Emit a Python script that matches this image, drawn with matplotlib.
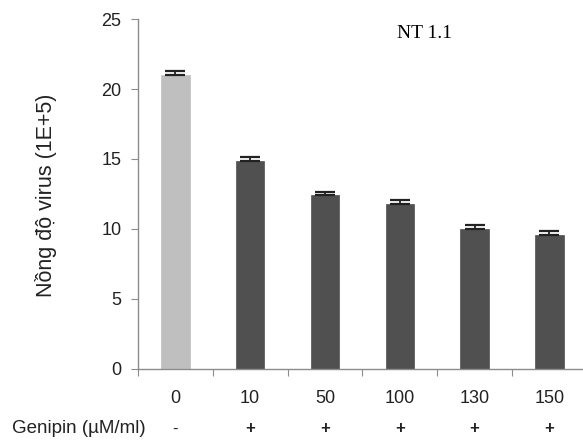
"""Genipin dose vs virus concentration (NT 1.1) bar chart -> out.png"""
import numpy as np
import matplotlib
matplotlib.use("Agg")
import matplotlib.pyplot as plt
from matplotlib.transforms import blended_transform_factory

plt.rcParams["font.family"] = ["Liberation Sans", "DejaVu Sans"]

doses = ["0", "10", "50", "100", "130", "150"]
signs = ["-", "+", "+", "+", "+", "+"]
virus = [21.0, 14.85, 12.4, 11.75, 10.0, 9.55]
err = [0.3, 0.28, 0.25, 0.3, 0.32, 0.3]
colors = ["#bfbfbf", "#505050", "#505050", "#505050", "#505050", "#505050"]

AXIS_COL = "#8c8c8c"

fig = plt.figure(figsize=(5.83, 4.45), dpi=100)
ax = fig.add_axes([0.2367, 0.1708, 0.7633, 0.7865])

x = np.arange(len(doses))
ax.bar(x, virus, width=0.38, color=colors, edgecolor=colors, lw=0.5, zorder=2)
ax.errorbar(x, virus, yerr=[np.zeros(len(err)), err], fmt="none",
            ecolor="#222", elinewidth=1.3, capsize=7, capthick=1.6, zorder=3)

ax.set_xlim(-0.5, 5.45)
ax.set_ylim(0, 25)
ax.set_yticks([0, 5, 10, 15, 20, 25])
ax.tick_params(axis="y", labelsize=13, length=5, color=AXIS_COL, pad=7,
               labelcolor="#222")

# category boundary ticks, labels centred under bars
ax.set_xticks(np.arange(-0.5, 5.0, 1.0))
ax.set_xticklabels([])
ax.set_xticks(x, minor=True)
ax.set_xticklabels(doses, minor=True)
ax.tick_params(axis="x", which="major", length=5, color=AXIS_COL)
ax.tick_params(axis="x", which="minor", length=0, labelsize=13, pad=15,
               labelcolor="#222")

for s in ["top", "right"]:
    ax.spines[s].set_visible(False)
for s in ["left", "bottom"]:
    ax.spines[s].set_color(AXIS_COL)
    ax.spines[s].set_linewidth(1.0)

fig.text(46 / 583, 0.562, "Nồng độ virus (1E+5)", fontsize=15.5, rotation=90,
         ha="center", va="center", color="#222")

ax.text(0.643, 0.96, "NT 1.1", transform=ax.transAxes, family="Liberation Serif",
        fontsize=14, ha="center", va="center")

trans = blended_transform_factory(ax.transData, fig.transFigure)
fig.text(12 / 583, 0.036, "Genipin (µM/ml)", fontsize=13.5, ha="left", va="center",
         color="#222")
for xi, s in zip(x, signs):
    ax.text(xi, 0.036, s, transform=trans, fontsize=12, ha="center", va="center",
            fontweight="bold" if s == "+" else "normal", color="#222")

fig.savefig("out.png", dpi=100)
